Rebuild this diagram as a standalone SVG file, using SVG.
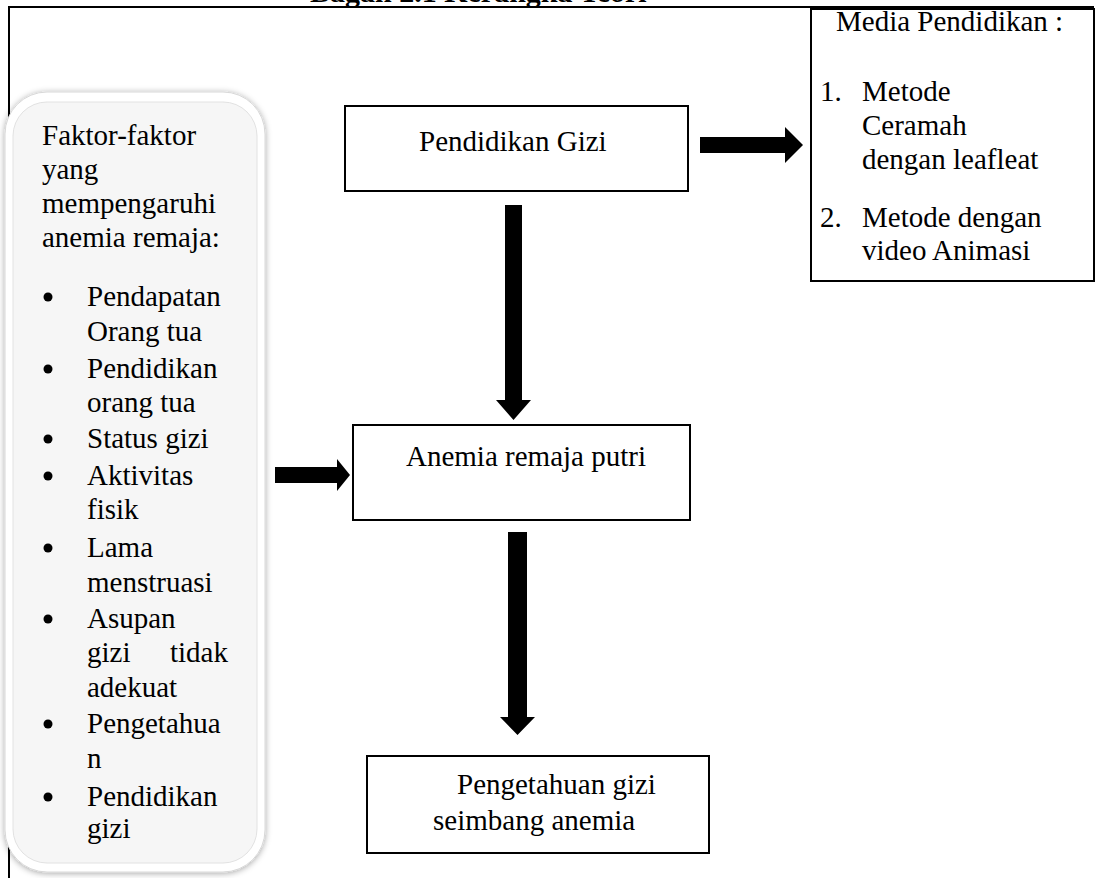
<svg xmlns="http://www.w3.org/2000/svg" width="1100" height="878" viewBox="0 0 1100 878">
<style>
.t{font-family:"Liberation Serif","Times New Roman",serif;font-size:29px;fill:#000}
.title{font-family:"Liberation Serif","Times New Roman",serif;font-size:30px;font-weight:bold;fill:#000}
.box{fill:#fff;stroke:#000;stroke-width:2}
.frame{stroke:#000;stroke-width:2;fill:none}
.arr{fill:#000}
</style>
<defs>
<filter id="sh" x="-10%" y="-5%" width="120%" height="110%">
<feGaussianBlur in="SourceAlpha" stdDeviation="3"/>
<feOffset dx="0" dy="1" result="b"/>
<feFlood flood-color="#000" flood-opacity="0.35"/>
<feComposite in2="b" operator="in"/>
<feMerge><feMergeNode/><feMergeNode in="SourceGraphic"/></feMerge>
</filter>
</defs>
<rect width="1100" height="878" fill="#fff"/>
<text class="title" x="310" y="2">Bagan 2.1 Kerangka Teori</text>
<g id="frame">
<line class="frame" x1="9" y1="7" x2="1094" y2="7"/>
<line class="frame" x1="9" y1="6" x2="9" y2="878"/>
</g>
<g id="faktor">
<rect x="5" y="92" width="260" height="780" rx="42" fill="#fff" stroke="#d8d8d8" stroke-width="1" filter="url(#sh)"/>
<rect x="13" y="102" width="244" height="761" rx="34" fill="#f6f6f6" stroke="#e2e2e2" stroke-width="1"/>
<text class="t" x="42" y="145">Faktor-faktor</text>
<text class="t" x="42" y="179">yang</text>
<text class="t" x="42" y="213">mempengaruhi</text>
<text class="t" x="42" y="247">anemia remaja:</text>
<g fill="#000">
<circle cx="48" cy="297" r="4.5"/>
<circle cx="48" cy="369" r="4.5"/>
<circle cx="48" cy="439" r="4.5"/>
<circle cx="48" cy="476" r="4.5"/>
<circle cx="48" cy="548" r="4.5"/>
<circle cx="48" cy="619" r="4.5"/>
<circle cx="48" cy="724" r="4.5"/>
<circle cx="48" cy="797" r="4.5"/>
</g>
<text class="t" x="87" y="306">Pendapatan</text>
<text class="t" x="87" y="341">Orang tua</text>
<text class="t" x="87" y="378">Pendidikan</text>
<text class="t" x="87" y="412">orang tua</text>
<text class="t" x="87" y="448">Status gizi</text>
<text class="t" x="87" y="485">Aktivitas</text>
<text class="t" x="87" y="519">fisik</text>
<text class="t" x="87" y="557">Lama</text>
<text class="t" x="87" y="592">menstruasi</text>
<text class="t" x="87" y="628">Asupan</text>
<text class="t" x="87" y="662">gizi</text>
<text class="t" x="170" y="662">tidak</text>
<text class="t" x="87" y="697">adekuat</text>
<text class="t" x="87" y="733">Pengetahua</text>
<text class="t" x="87" y="768">n</text>
<text class="t" x="87" y="806">Pendidikan</text>
<text class="t" x="87" y="838">gizi</text>
</g>
<g id="pendidikan-gizi">
<rect class="box" x="345" y="106" width="343" height="85"/>
<text class="t" x="419" y="151">Pendidikan Gizi</text>
</g>
<g id="media">
<rect class="box" x="811" y="9" width="283" height="272"/>
<text class="t" x="836" y="31">Media Pendidikan :</text>
<text class="t" x="820" y="101">1.</text>
<text class="t" x="862" y="101">Metode</text>
<text class="t" x="862" y="135">Ceramah</text>
<text class="t" x="862" y="169">dengan leafleat</text>
<text class="t" x="820" y="227">2.</text>
<text class="t" x="862" y="227">Metode dengan</text>
<text class="t" x="862" y="260">video Animasi</text>
</g>
<g id="anemia">
<rect class="box" x="353" y="425" width="337" height="95"/>
<text class="t" x="406" y="466">Anemia remaja putri</text>
</g>
<g id="pengetahuan">
<rect class="box" x="367" y="756" width="342" height="97"/>
<text class="t" x="457" y="794">Pengetahuan gizi</text>
<text class="t" x="433" y="830">seimbang anemia</text>
</g>
<g id="connectors">
<polygon class="arr" points="700,137 785,137 785,127 803,145 785,163 785,153 700,153"/>
<polygon class="arr" points="505,205 522,205 522,400 531,400 513.5,420 496,400 505,400"/>
<polygon class="arr" points="275,467 337,467 337,459 350,475 337,491 337,483 275,483"/>
<polygon class="arr" points="508,532 527,532 527,717 535,717 517.5,735 500,717 508,717"/>
</g>
</svg>
